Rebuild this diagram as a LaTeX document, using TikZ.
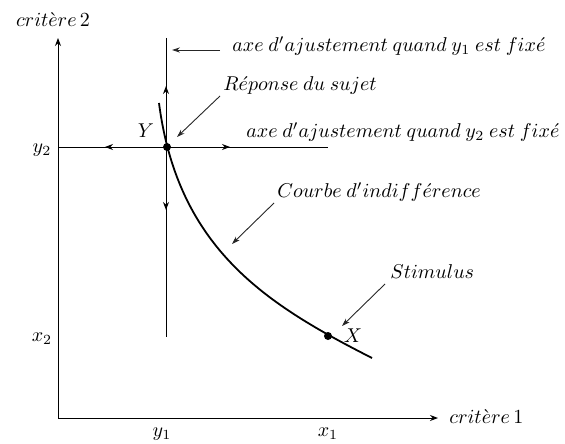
\documentclass[tikz,border=0pt]{standalone}
\usetikzlibrary{arrows.meta}
\newcommand{\wsp}{\mskip 4.3mu}
\begin{document}
\begin{tikzpicture}[x=0.5pt,y=-0.5pt,
  ln/.style={line width=0.5pt},
  axis/.style={line width=0.5pt,-{Stealth[length=4pt,width=3pt]}},
  midtip/.style={line width=0.5pt,-{Stealth[length=4pt,width=3pt]}},
  ptr/.style={line width=0.45pt,black!85,-{Stealth[length=4pt,width=2.6pt]}},
  lbl/.style={inner sep=0pt},
  dot/.style={circle,fill,inner sep=0pt,minimum size=4pt}]
\useasboundingbox (0,0) rectangle (565,443);
% axes
\coordinate (O) at (58,418);
\coordinate (Ytip) at (58,38);
\coordinate (Xtip) at (438,418);
\draw[axis] (O) -- (Ytip);
\draw[axis] (O) -- (Xtip);
\node[lbl] (c2) at (53,20) {$crit\grave{e}re\,2$};
\node[lbl,anchor=west] (c1) at (449,417) {$crit\grave{e}re\,1$};
\node[lbl] (ly2) at (42,150) {$y_2$};
\node[lbl] (lx2) at (42,339) {$x_2$};
\node[lbl] (ly1) at (162,434) {$y_1$};
\node[lbl] (lx1) at (328,434) {$x_1$};
% adjustment axes
\coordinate (Y) at (167,147);
\coordinate (vtop) at (166,38);
\coordinate (vbot) at (166,337);
\coordinate (hl) at (59,147);
\coordinate (hr) at (328,147);
\draw[ln] (vtop) -- (vbot);
\draw[ln] (hl) -- (hr);
\coordinate (mu) at (166,86);
\coordinate (md) at (166,210);
\coordinate (ml) at (105,147);
\coordinate (mr) at (230,147);
\draw[midtip] (166,120) -- (mu);
\draw[midtip] (166,180) -- (md);
\draw[midtip] (140,147) -- (ml);
\draw[midtip] (195,147) -- (mr);
% curve
\coordinate (cs) at (159,103);
\coordinate (ce) at (372,358);
\draw[line width=0.9pt] (cs) .. controls (178,250) and (268,305) .. (ce);
\node[dot] (Yd) at (Y) {};
\node[dot] (Xd) at (328,336) {};
\node[lbl] (Yl) at (146,131) {$Y$};
\node[lbl] (Xl) at (353,336) {$X$};
% labels with pointers
\node[lbl,anchor=west] (t1) at (232,46) {$axe\wsp d'ajustement\wsp quand\wsp y_1\wsp est\wsp fix\acute{e}$};
\coordinate (t1p) at (172,50);
\draw[ptr] (220,50) -- (t1p);
\node[lbl,anchor=west] (rep) at (223,86) {$R\acute{e}ponse\wsp du\wsp sujet$};
\coordinate (repp) at (177,137);
\draw[ptr] (220,96) -- (repp);
\node[lbl,anchor=west] (t2) at (246,132) {$axe\wsp d'ajustement\wsp quand\wsp y_2\wsp est\wsp fix\acute{e}$};
\node[lbl,anchor=west] (cb) at (277,192) {$Courbe\wsp d'indiff\acute{e}rence$};
\coordinate (cbp) at (232,244);
\draw[ptr] (274,203) -- (cbp);
\node[lbl,anchor=west] (st) at (390,272) {$Stimulus$};
\coordinate (stp) at (342,326);
\draw[ptr] (385,284) -- (stp);
\end{tikzpicture}
\end{document}
